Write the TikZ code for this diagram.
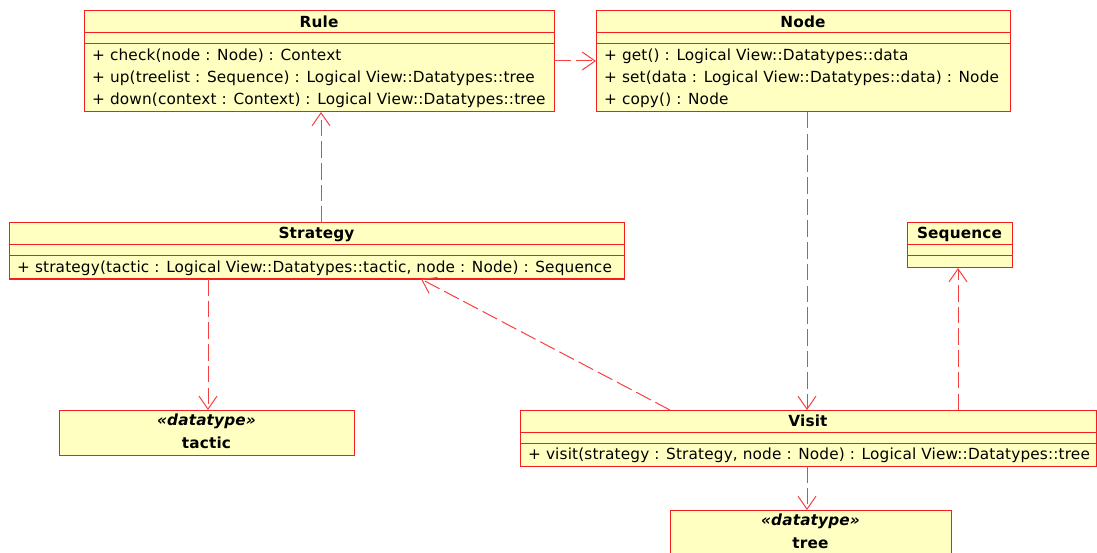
\documentclass[tikz,border=0pt]{standalone}
\usepackage{fontspec}
\setmainfont{DejaVu Sans}[LetterSpace=1]
\usetikzlibrary{arrows.meta}
\definecolor{umlred}{RGB}{245,30,30}
\definecolor{umlfill}{RGB}{255,255,194}
\tikzset{
  classbox/.style={draw=umlred, fill=umlfill, line width=1pt, inner sep=0pt, outer sep=0pt},
  sepline/.style={draw=umlred, line width=1pt},
  optext/.style={anchor=west, inner sep=0pt, font=\fontsize{15.3}{17}\selectfont},
  ttltext/.style={inner sep=0pt, font=\fontsize{15.3}{17}\selectfont\bfseries},
  stereo/.style={inner sep=0pt, font=\fontsize{15.3}{17}\selectfont\bfseries\itshape},
  dep/.style={draw=umlred!85, line width=1pt, dash pattern=on 16.5pt off 5.2pt,
    -{Straight Barb[length=13pt,width=18pt,line width=1pt]}},
}
\begin{document}
\begin{tikzpicture}[x=1pt,y=-1pt]
\useasboundingbox (0,0) rectangle (1097,553);

% ---- class boxes ----
\node[classbox, minimum width=470pt, minimum height=101pt] (cRule) at (319,61.5) {};
\node[classbox, minimum width=414pt, minimum height=101pt] (cNode) at (803,61.5) {};
\node[classbox, minimum width=615pt, minimum height=56pt] (cStrategy) at (316.5,251) {};
\node[classbox, minimum width=105pt, minimum height=45pt] (cSequence) at (959.5,245.5) {};
\node[classbox, minimum width=295pt, minimum height=45pt] (cTactic) at (206.5,432.5) {};
\node[classbox, minimum width=576pt, minimum height=56pt] (cVisit) at (808,438) {};
\node[classbox, minimum width=281pt, minimum height=50pt] (cTree) at (810.5,535) {};

% ---- compartment separators ----
\draw[sepline] (cRule.west |- 0,33) -- (cRule.east |- 0,33);
\draw[sepline] (cRule.west |- 0,44) -- (cRule.east |- 0,44);
\draw[sepline] (cNode.west |- 0,33) -- (cNode.east |- 0,33);
\draw[sepline] (cNode.west |- 0,44) -- (cNode.east |- 0,44);
\draw[sepline] (cStrategy.west |- 0,245) -- (cStrategy.east |- 0,245);
\draw[sepline] (cStrategy.west |- 0,256) -- (cStrategy.east |- 0,256);
\draw[sepline] (cSequence.west |- 0,245) -- (cSequence.east |- 0,245);
\draw[sepline] (cSequence.west |- 0,256) -- (cSequence.east |- 0,256);
\draw[sepline] (cVisit.west |- 0,432) -- (cVisit.east |- 0,432);
\draw[sepline] (cVisit.west |- 0,443) -- (cVisit.east |- 0,443);

% ---- Rule ----
\node[ttltext] (tRule) at (cRule.north |- 0,22) {Rule};
\node[optext] (oRule1) at (92,56) {+ check(node : Node) : Context};
\node[optext] (oRule2) at (92,78) {+ up(treelist : Sequence) : Logical View::Datatypes::tree};
\node[optext] (oRule3) at (92,100) {+ down(context : Context) : Logical View::Datatypes::tree};

% ---- Node ----
\node[ttltext] (tNode) at (cNode.north |- 0,22) {Node};
\node[optext] (oNode1) at (604,56) {+ get() : Logical View::Datatypes::data};
\node[optext] (oNode2) at (604,78) {+ set(data : Logical View::Datatypes::data) : Node};
\node[optext] (oNode3) at (604,100) {+ copy() : Node};

% ---- Strategy ----
\node[ttltext] (tStrategy) at (cStrategy.north |- 0,234) {Strategy};
\node[optext] (oStrategy1) at (17,268) {+ strategy(tactic : Logical View::Datatypes::tactic, node : Node) : Sequence};

% ---- Sequence ----
\node[ttltext] (tSequence) at (cSequence.north |- 0,234) {Sequence};

% ---- tactic ----
\node[stereo] (sTactic) at (cTactic.north |- 0,421) {«datatype»};
\node[ttltext] (tTactic) at (cTactic.north |- 0,443) {tactic};

% ---- Visit ----
\node[ttltext] (tVisit) at (cVisit.north |- 0,421) {Visit};
\node[optext] (oVisit1) at (528,455) {+ visit(strategy : Strategy, node : Node) : Logical View::Datatypes::tree};

% ---- tree ----
\node[stereo] (sTree) at (cTree.north |- 0,521) {«datatype»};
\node[ttltext] (tTree) at (cTree.north |- 0,543) {tree};

% ---- dependencies ----
\draw[dep] (cRule.east |- 0,61) -- (cNode.west |- 0,61);
\draw[dep] (cStrategy.north -| 321,0) -- (cRule.south -| 321,0);
\draw[dep] (cStrategy.south -| 208,0) -- (cTactic.north -| 208,0);
\draw[dep] (cVisit.north -| 670,0) -- (cStrategy.south -| 421,0);
\draw[dep] (cNode.south -| 807,0) -- (cVisit.north -| 807,0);
\draw[dep] (cVisit.north -| 958,0) -- (cSequence.south -| 958,0);
\draw[dep] (cVisit.south -| 807,0) -- (cTree.north -| 807,0);
\end{tikzpicture}
\end{document}
